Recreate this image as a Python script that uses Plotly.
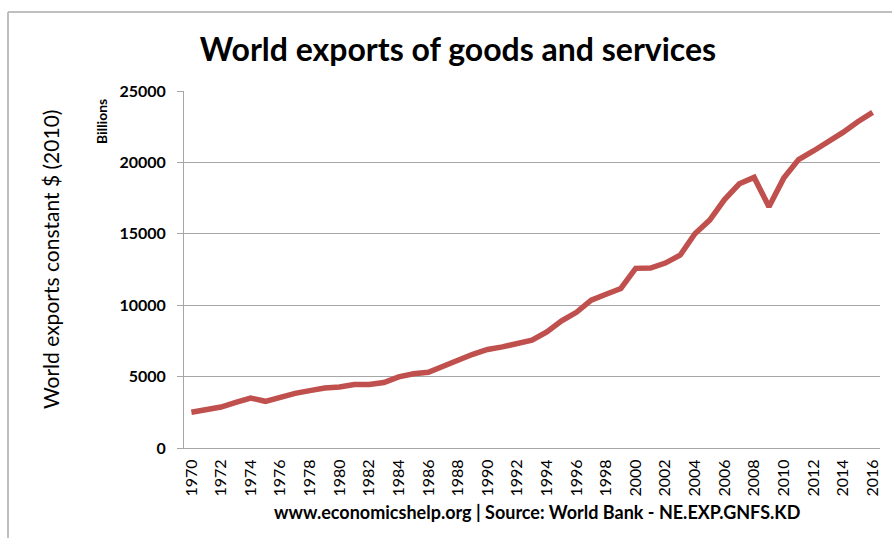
import plotly.graph_objects as go

years = list(range(1970, 2017))
exports = [2500, 2640, 2870, 3200, 3500, 3270, 3600, 3830, 4020, 4200,
           4270, 4440, 4450, 4580, 4980, 5200, 5300, 5680, 6140, 6560,
           6900, 7080, 7270, 7550, 8130, 8900, 9500, 10350, 10770, 11170,
           12580, 12600, 12950, 13500, 15000, 15960, 17400, 18500, 18950, 16900,
           18900, 20200, 20800, 21400, 22100, 22850, 23500]
tick_years = list(range(1970, 2017, 2))
y_ticks = [0, 5000, 10000, 15000, 20000, 25000]

title_text = "World exports of goods and services"
ytitle_text = "World exports constant $ (2010)"
unit_text = "Billions"
footer_text = "www.economicshelp.org | Source: World Bank - NE.EXP.GNFS.KD"

FONT = "Lato"
W, H = 892, 538
L, R, T, B = 184, 12, 91, 90
pw = W - L - R
ph = H - T - B

def px(x):
    return (x - L) / pw

def py(y):
    return (H - B - y) / ph

fig = go.Figure()
fig.add_trace(go.Scatter(x=years, y=exports, mode="lines",
                         line=dict(color="#C0504D", width=5.5),
                         hoverinfo="x+y"))

fig.update_layout(
    width=W, height=H,
    margin=dict(l=L, r=R, t=T, b=B),
    paper_bgcolor="white", plot_bgcolor="white",
    showlegend=False,
    font=dict(family=FONT, color="#000000"),
    title=dict(text=title_text, x=px(458), xref="paper", xanchor="center",
               y=1 - 50 / H, yref="container", yanchor="middle",
               font=dict(family=FONT, size=32, weight="bold", color="#000000")),
    xaxis=dict(range=[1969.5, 2016.5], tickmode="array", tickvals=tick_years,
               ticktext=[str(y) for y in tick_years], tickangle=-90,
               showgrid=False, showline=True, linecolor="#A6A6A6", linewidth=1,
               ticks="", ticklabelstandoff=4, zeroline=False,
               tickfont=dict(family=FONT, size=16, color="#000000")),
    yaxis=dict(range=[0, 25000], tickmode="array", tickvals=y_ticks,
               ticktext=[str(v) for v in y_ticks],
               showgrid=True, gridcolor="#A6A6A6", gridwidth=1,
               showline=True, linecolor="#A6A6A6", linewidth=1,
               ticks="outside", ticklen=6, tickcolor="#A6A6A6",
               ticklabelstandoff=8, zeroline=False,
               tickfont=dict(family=FONT, size=16, weight="bold", color="#000000")),
)

fig.add_annotation(text=ytitle_text, xref="paper", yref="paper",
                   x=px(50), y=py(260), textangle=-90, showarrow=False,
                   xanchor="center", yanchor="middle",
                   font=dict(family=FONT, size=21, color="#000000"))
fig.add_annotation(text=unit_text, xref="paper", yref="paper",
                   x=px(101), y=py(122), textangle=-90, showarrow=False,
                   xanchor="center", yanchor="middle",
                   font=dict(family=FONT, size=14, weight="bold", color="#000000"))
fig.add_annotation(text=footer_text, xref="paper", yref="paper",
                   x=px(537), y=py(512), showarrow=False,
                   xanchor="center", yanchor="middle",
                   font=dict(family=FONT, size=18, weight="bold", color="#000000"))

# outer chart border (top and left edges visible)
fig.add_shape(type="line", xref="paper", yref="paper",
              x0=px(8), y0=py(H + 5), x1=px(8), y1=py(12),
              line=dict(color="#BFBFBF", width=2))
fig.add_shape(type="line", xref="paper", yref="paper",
              x0=px(8), y0=py(12), x1=px(W + 5), y1=py(12),
              line=dict(color="#BFBFBF", width=2))

fig.write_html("out.html")
